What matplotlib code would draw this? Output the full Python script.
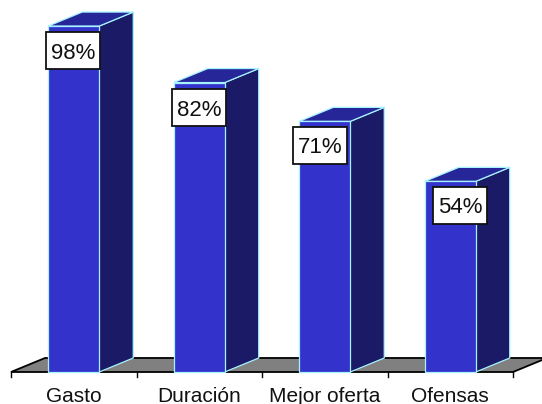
#!/usr/bin/env python3
import matplotlib
matplotlib.use('Agg')
import matplotlib.pyplot as plt
from matplotlib.patches import Polygon, Rectangle

categories = ['Gasto', 'Duración', 'Mejor oferta', 'Ofensas']
values = [98, 82, 71, 54]
value_labels = ['98%', '82%', '71%', '54%']

# where the callouts sit relative to the bar front centre (x in categories, y in %)
box_dx = [-0.008, 0.0, -0.036, 0.08]
box_dy = [-7.0, -7.2, -6.7, -6.7]

plt.rcParams['font.family'] = ['Liberation Sans', 'DejaVu Sans']

W, H = 542, 404
px_x = 125.5   # pixels per category
px_y = 3.53    # pixels per percent
x0, y0 = 11, 372

fig = plt.figure(figsize=(W / 100, H / 100), dpi=100)
ax = fig.add_axes([0, 0, 1, 1])
ax.set_xlim(-x0 / px_x, (W - x0) / px_x)
ax.set_ylim(-(H - y0) / px_y, y0 / px_y)
ax.axis('off')

# 3D depth of the chart
dx = 34 / px_x
dy = 14 / px_y
bar_w = 51 / px_x
bar_off = (1 - bar_w) / 2

FRONT = '#3333CC'
TOP = '#262699'
SIDE = '#1A1A66'
EDGE = '#A6F2FF'

# floor
n = len(categories)
ax.add_patch(Polygon([(0, 0), (n, 0), (n + dx, dy), (dx, dy)], closed=True,
                     fc='#808080', ec='black', lw=1.3, zorder=1))
for i in range(n + 1):
    ax.plot([i, i], [0, -5 / px_y], color='black', lw=1, zorder=1)

for i, v in enumerate(values):
    x = i + bar_off
    ax.add_patch(Polygon([(x + bar_w, 0), (x + bar_w + dx, dy), (x + bar_w + dx, v + dy), (x + bar_w, v)],
                         closed=True, fc=SIDE, ec=EDGE, lw=0.9, zorder=2))
    ax.add_patch(Polygon([(x, v), (x + dx, v + dy), (x + bar_w + dx, v + dy), (x + bar_w, v)],
                         closed=True, fc=TOP, ec=EDGE, lw=0.9, zorder=2))
    ax.add_patch(Rectangle((x, 0), bar_w, v, fc=FRONT, ec=EDGE, lw=0.9, zorder=3))

    # value callout
    cx = x + bar_w / 2 + box_dx[i]
    cy = v + box_dy[i]
    bw, bh = 54 / px_x, 37 / px_y
    ax.add_patch(Rectangle((cx - bw / 2, cy - bh / 2), bw, bh, fc='white', ec='#111111', lw=1.3, zorder=4))
    ax.text(cx, cy, value_labels[i], ha='center', va='center_baseline', fontsize=16, color='#111111', zorder=5)

    ax.text(x + bar_w / 2, -24 / px_y, categories[i], ha='center', va='center', fontsize=15, color='#111111')

fig.savefig('out.png', dpi=100)
